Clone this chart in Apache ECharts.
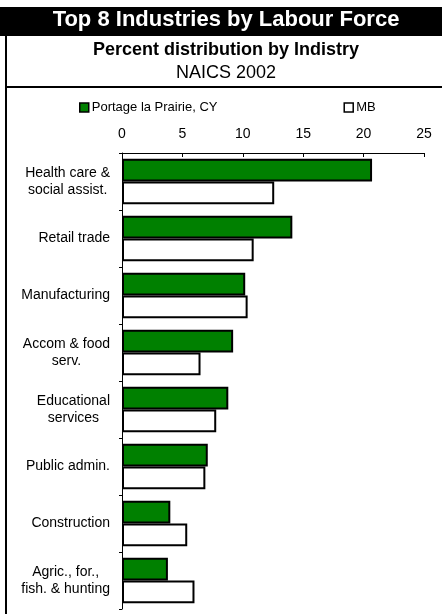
<!DOCTYPE html>
<html>
<head>
<meta charset="utf-8">
<script src="https://cdn.jsdelivr.net/npm/echarts@6/dist/echarts.min.js"></script>
<style>
html,body{margin:0;padding:0;background:#fff;}
#c{width:442px;height:614px;}
</style>
</head>
<body>
<div id="c"></div>
<script>
var categories = ['Health care &\nsocial assist.', 'Retail trade', 'Manufacturing', 'Accom & food\nserv.', 'Educational\nservices', 'Public admin.', 'Construction', 'Agric., for.,\nfish. & hunting'];
var portageValues = [20.7, 14.1, 10.2, 9.2, 8.8, 7.1, 4.0, 3.8];
var mbValues = [12.6, 10.9, 10.4, 6.5, 7.8, 6.9, 5.4, 6.0];
var xTicks = [0, 5, 10, 15, 20, 25];
var seriesNames = ['Portage la Prairie, CY', 'MB'];

var FONT = '"Liberation Sans", Arial, sans-serif';
var chart = echarts.init(document.getElementById('c'), null, {renderer: 'canvas'});
chart.setOption({
  animation: false,
  backgroundColor: '#fff',
  textStyle: {fontFamily: FONT},
  graphic: [
    {type: 'rect', shape: {x: 0, y: 7, width: 442, height: 29}, style: {fill: '#000'}, z: -1},
    {type: 'rect', shape: {x: 5, y: 36, width: 2, height: 578}, style: {fill: '#000'}},
    {type: 'rect', shape: {x: 5, y: 86, width: 437, height: 2}, style: {fill: '#000'}}
  ],
  title: [
    {text: 'Top 8 Industries by Labour Force', left: 226, top: 9, textAlign: 'center',
     textStyle: {color: '#fff', fontSize: 22, fontWeight: 'bold', fontFamily: FONT}, padding: 0},
    {text: 'Percent distribution by Indistry', left: 226, top: 41, textAlign: 'center',
     textStyle: {color: '#000', fontSize: 18, fontWeight: 'bold', fontFamily: FONT}, padding: 0},
    {text: 'NAICS 2002', left: 226, top: 64, textAlign: 'center',
     textStyle: {color: '#000', fontSize: 18, fontWeight: 'normal', fontFamily: FONT}, padding: 0}
  ],
  legend: {
    data: seriesNames,
    left: 79, top: 101,
    itemWidth: 9, itemHeight: 9, itemGap: 126,
    icon: 'rect',
    padding: 0,
    textStyle: {fontSize: 13, color: '#000', fontFamily: FONT, padding: [0, 0, 0, -2]},
    itemStyle: {borderColor: '#000', borderWidth: 1.5}
  },
  grid: {left: 122, right: 18, top: 153, bottom: 5, containLabel: false},
  xAxis: {
    type: 'value', position: 'top', min: 0, max: 25, interval: 5,
    axisLine: {show: true, lineStyle: {color: '#000', width: 1}},
    axisTick: {show: true, inside: true, length: 4, lineStyle: {color: '#000'}},
    axisLabel: {fontSize: 14, color: '#000', margin: 12, fontFamily: FONT,
      formatter: function (v) { return xTicks.indexOf(v) >= 0 ? String(v) : ''; }},
    splitLine: {show: false}
  },
  yAxis: {
    type: 'category', data: categories, inverse: true,
    axisLine: {show: true, lineStyle: {color: '#000', width: 1}},
    axisTick: {show: true, length: 3, lineStyle: {color: '#000'}},
    axisLabel: {
      fontSize: 14, color: '#000', margin: 12, fontFamily: FONT, align: 'right', lineHeight: 17,
      formatter: function (v) {
        return v.split('\n').map(function (s) { return '{a|' + s + '}'; }).join('\n');
      },
      rich: {a: {align: 'center', fontSize: 14, lineHeight: 17, fontFamily: FONT, color: '#000'}}
    }
  },
  series: [
    {name: seriesNames[0], type: 'bar', data: portageValues, barGap: '0%', barCategoryGap: '20%',
     itemStyle: {color: '#008000', borderColor: '#000', borderWidth: 2}},
    {name: seriesNames[1], type: 'bar', data: mbValues, barGap: '0%', barCategoryGap: '20%',
     itemStyle: {color: '#fff', borderColor: '#000', borderWidth: 2}}
  ]
});
</script>
</body>
</html>
